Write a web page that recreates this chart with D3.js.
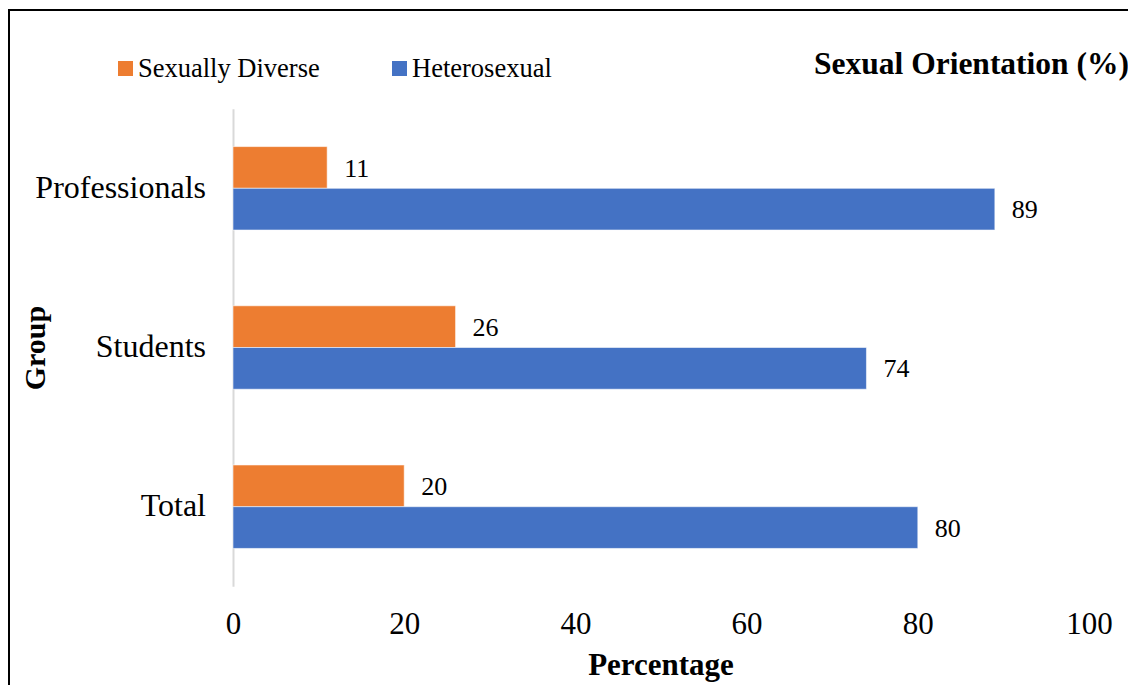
<!DOCTYPE html>
<html>
<head>
<meta charset="utf-8">
<script src="https://cdn.jsdelivr.net/npm/d3@7"></script>
<style>
  html, body { margin: 0; padding: 0; background: #fff; }
  svg { display: block; }
</style>
</head>
<body>
<svg id="chart" width="1128" height="685"></svg>
<script>
// Groups, top to bottom
const groups = ["Professionals", "Students", "Total"];
// Series names and colours
const seriesNames = ["Sexually Diverse", "Heterosexual"];
const seriesColors = ["#ED7D31", "#4472C4"];
// Percentages per group, in the order of `groups`
const sexuallyDiverse = [11, 26, 20];
const heterosexual = [89, 74, 80];
// X axis tick values
const xTicks = [0, 20, 40, 60, 80, 100];

const FONT = "Liberation Serif";

const seriesValues = [sexuallyDiverse, heterosexual];
const rows = groups.map((g, i) => ({
  group: g,
  values: seriesNames.map((s, k) => ({ series: s, value: seriesValues[k][i], color: seriesColors[k] }))
}));

const svg = d3.select("#chart");

// Outer frame
svg.append("rect")
  .attr("x", 9).attr("y", 10)
  .attr("width", 1140).attr("height", 700)
  .attr("fill", "none").attr("stroke", "#000").attr("stroke-width", 2);

const x = d3.scaleLinear().domain([0, 100]).range([233, 1089]);
const y = d3.scaleBand().domain(groups).range([108.7, 586.3])
  .paddingInner(0.476).paddingOuter(0.238);
const ySub = d3.scaleBand().domain(seriesNames).range([0, y.bandwidth()]);

// Category axis
const yAxis = svg.append("g")
  .attr("transform", `translate(${x(0)},0)`)
  .call(d3.axisLeft(y).tickSize(0).tickPadding(27))
  .attr("font-family", FONT).attr("font-size", 32);
yAxis.select(".domain").attr("stroke", "#d9d9d9").attr("stroke-width", 2);
yAxis.selectAll("text")
  .attr("font-family", FONT)
  .attr("font-size", 32).attr("fill", "#000")
  .attr("dy", "0.3em");

// Value axis (labels only)
const xAxis = svg.append("g")
  .attr("transform", "translate(0,600)")
  .call(d3.axisBottom(x).tickValues(xTicks).tickSize(0).tickPadding(0))
  .attr("font-family", FONT).attr("font-size", 31);
xAxis.select(".domain").remove();
xAxis.selectAll("text")
  .attr("font-family", FONT)
  .attr("font-size", 31).attr("fill", "#000")
  .attr("y", 34).attr("dy", 0);

// Bars
const grp = svg.append("g").selectAll("g")
  .data(rows).join("g")
  .attr("transform", d => `translate(0,${y(d.group)})`);

grp.selectAll("rect")
  .data(d => d.values).join("rect")
  .attr("x", x(0))
  .attr("y", d => ySub(d.series))
  .attr("width", d => x(d.value) - x(0))
  .attr("height", ySub.bandwidth())
  .attr("fill", d => d.color)
  .attr("stroke", "#ffffff").attr("stroke-opacity", 0.55).attr("stroke-width", 1);

// Value labels
grp.selectAll("text")
  .data(d => d.values).join("text")
  .attr("x", d => x(d.value) + 17)
  .attr("y", d => ySub(d.series) + ySub.bandwidth() / 2)
  .attr("dy", "0.35em")
  .attr("font-family", FONT)
  .attr("font-size", 26).attr("fill", "#000")
  .text(d => d.value);

// Legend
const legendX = [118, 392];
const legend = svg.append("g").selectAll("g")
  .data(seriesNames).join("g")
  .attr("transform", (d, i) => `translate(${legendX[i]},0)`);
legend.append("rect")
  .attr("x", 0).attr("y", 61).attr("width", 15).attr("height", 15)
  .attr("fill", (d, i) => seriesColors[i]);
legend.append("text")
  .attr("x", 20).attr("y", 77)
  .attr("font-family", FONT)
  .attr("font-size", 26.5).attr("fill", "#000")
  .text(d => d);

// Title
svg.append("text")
  .attr("x", 814).attr("y", 74)
  .attr("font-family", FONT)
  .attr("font-size", 31.5).attr("font-weight", "bold").attr("fill", "#000")
  .text("Sexual Orientation (%)");

// Axis titles
svg.append("text")
  .attr("x", 661).attr("y", 675)
  .attr("text-anchor", "middle")
  .attr("font-family", FONT)
  .attr("font-size", 31).attr("font-weight", "bold").attr("fill", "#000")
  .text("Percentage");

svg.append("text")
  .attr("transform", "translate(45,348) rotate(-90)")
  .attr("text-anchor", "middle")
  .attr("font-family", FONT)
  .attr("font-size", 30).attr("font-weight", "bold").attr("fill", "#000")
  .text("Group");
</script>
</body>
</html>
